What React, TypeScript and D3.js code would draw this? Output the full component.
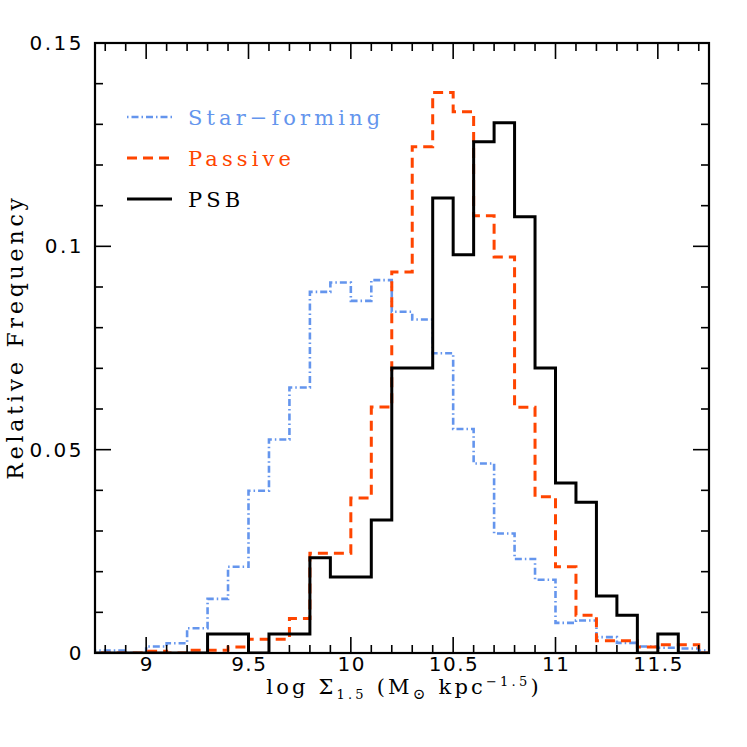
import React from 'react';
import * as d3 from 'd3';

const binStarts = [8.7, 8.8, 8.9, 9.0, 9.1, 9.2, 9.3, 9.4, 9.5, 9.6, 9.7, 9.8, 9.9, 10.0, 10.1, 10.2, 10.3, 10.4, 10.5, 10.6, 10.7, 10.8, 10.9, 11.0, 11.1, 11.2, 11.3, 11.4, 11.5, 11.6, 11.7];
const starForming = [0.0006, 0.0006, 0, 0.0016, 0.0024, 0.0061, 0.0133, 0.0212, 0.0399, 0.0525, 0.0653, 0.0888, 0.0911, 0.0866, 0.0917, 0.0839, 0.0820, 0.0737, 0.0551, 0.0466, 0.0294, 0.0231, 0.0180, 0.0074, 0.0080, 0.0039, 0.0025, 0.0016, 0.0013, 0.0011, 0.0006];
const passive = [0, 0, 0, 0.0004, 0, 0.0007, 0.0007, 0.0015, 0.0034, 0.0034, 0.0085, 0.0245, 0.0245, 0.0381, 0.0605, 0.0937, 0.1245, 0.1378, 0.1331, 0.1075, 0.0974, 0.0604, 0.0384, 0.0212, 0.0093, 0.0030, 0.0030, 0.0015, 0.0020, 0.0020, 0];
const psb = [0, 0, 0, 0, 0, 0, 0.0047, 0.0047, 0, 0.0047, 0.0047, 0.0234, 0.0187, 0.0187, 0.0327, 0.0701, 0.0701, 0.1119, 0.0979, 0.1257, 0.1304, 0.1073, 0.0701, 0.0418, 0.0371, 0.0140, 0.0093, 0, 0.0047, 0, 0];
const binWidth = 0.1;

const xMajorTicks = [9, 9.5, 10, 10.5, 11, 11.5];
const xTickLabels = ['9', '9.5', '10', '10.5', '11', '11.5'];
const yMajorTicks = [0, 0.05, 0.1, 0.15];
const yTickLabels = ['0', '0.05', '0.1', '0.15'];

const seriesNames = ['Star\u2212forming', 'Passive', 'PSB'];
const seriesColors = ['#6495ED', '#FF4500', '#000000'];

const W = 747, H = 747;
const L = 95, R = 709, T = 43, B = 653;

export default function App() {
  const x = d3.scaleLinear().domain([8.75, 11.75]).range([L, R]);
  const y = d3.scaleLinear().domain([0, 0.15]).range([B, T]);

  const mk = (vals: number[]) => {
    const pts: [number, number][] = binStarts.map((b, i) => [b, vals[i]]);
    pts.push([binStarts[binStarts.length - 1] + binWidth, vals[vals.length - 1]]);
    return d3.line<[number, number]>().x(d => x(d[0])).y(d => y(d[1])).curve(d3.curveStepAfter)(pts) || '';
  };

  const xMinor = d3.range(88, 118).map(v => v / 10).filter(v => !xMajorTicks.some(m => Math.abs(m - v) < 1e-6));
  const yMinor = d3.range(1, 15).map(v => v / 100).filter(v => !yMajorTicks.some(m => Math.abs(m - v) < 1e-6));

  const serif = "'DejaVu Serif', serif";
  const sans = "'DejaVu Sans', sans-serif";
  const styles = [
    { dash: '1.5,3,7,3', width: 2.6 },
    { dash: '10,6', width: 3 },
    { dash: 'none', width: 3 },
  ];
  const seriesData = [starForming, passive, psb];

  return (
    <svg width={W} height={H} style={{ position: 'absolute', left: 0, top: 0, background: '#fff' }}>
      <defs>
        <clipPath id="plotClip">
          <rect x={L} y={T} width={R - L} height={B - T} />
        </clipPath>
      </defs>
      <rect x={0} y={0} width={W} height={H} fill="#fff" />
      <g clipPath="url(#plotClip)" fill="none">
        {seriesData.map((vals, i) => (
          <path key={i} d={mk(vals)} stroke={seriesColors[i]} strokeWidth={styles[i].width}
            strokeDasharray={styles[i].dash} strokeLinejoin="miter" />
        ))}
      </g>
      <g stroke="#000" strokeWidth={1.6}>
        {xMajorTicks.map(v => (
          <g key={'xM' + v}>
            <line x1={x(v)} x2={x(v)} y1={B} y2={B - 16} />
            <line x1={x(v)} x2={x(v)} y1={T} y2={T + 16} />
          </g>
        ))}
        {xMinor.map(v => (
          <g key={'xm' + v}>
            <line x1={x(v)} x2={x(v)} y1={B} y2={B - 8} />
            <line x1={x(v)} x2={x(v)} y1={T} y2={T + 8} />
          </g>
        ))}
        {yMajorTicks.map(v => (
          <g key={'yM' + v}>
            <line x1={L} x2={L + 16} y1={y(v)} y2={y(v)} />
            <line x1={R} x2={R - 16} y1={y(v)} y2={y(v)} />
          </g>
        ))}
        {yMinor.map(v => (
          <g key={'ym' + v}>
            <line x1={L} x2={L + 8} y1={y(v)} y2={y(v)} />
            <line x1={R} x2={R - 8} y1={y(v)} y2={y(v)} />
          </g>
        ))}
      </g>
      <rect x={L} y={T} width={R - L} height={B - T} fill="none" stroke="#000" strokeWidth={2.2} />
      <g fontFamily={sans} fontSize={20} fill="#000">
        {xMajorTicks.map((v, i) => (
          <text key={'xl' + v} x={x(v) + 0.8} y={B + 18} textAnchor="middle" letterSpacing={1.5}>{xTickLabels[i]}</text>
        ))}
        {yMajorTicks.map((v, i) => (
          <text key={'yl' + v} x={L - 11} y={y(v) + 7} textAnchor="end" letterSpacing={2.5}>{yTickLabels[i]}</text>
        ))}
      </g>
      <text x={(L + R) / 2 + 2} y={694} textAnchor="middle" fontFamily={serif} fontSize={21} letterSpacing={3.2}>
        log Σ<tspan fontSize={13} dy={5}>1.5</tspan>
        <tspan dy={-5}> (M</tspan><tspan fontSize={15} dy={5}>⊙</tspan>
        <tspan dy={-5}> kpc</tspan><tspan fontSize={13} dy={-8}>−1.5</tspan>
        <tspan dy={8}>)</tspan>
      </text>
      <text transform={`translate(23, ${(T + B) / 2 - 11}) rotate(-90)`} textAnchor="middle"
        fontFamily={serif} fontSize={22} letterSpacing={3.8}>Relative Frequency</text>
      {seriesNames.map((name, i) => {
        const ly = 117 + i * 41;
        return (
          <g key={name}>
            <line x1={127} x2={172} y1={ly} y2={ly} stroke={seriesColors[i]} strokeWidth={styles[i].width}
              strokeDasharray={styles[i].dash} />
            <text x={188} y={ly + 8} fontFamily={serif} fontSize={21} letterSpacing={4.1}
              fill={seriesColors[i]}>{name}</text>
          </g>
        );
      })}
    </svg>
  );
}
